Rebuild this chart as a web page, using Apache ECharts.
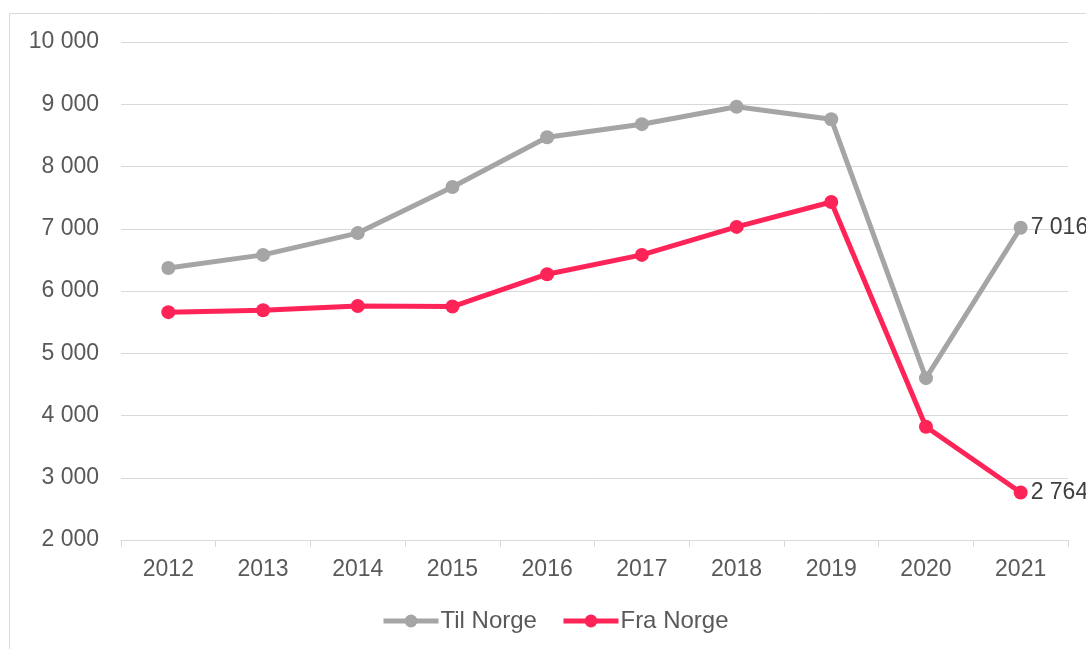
<!DOCTYPE html>
<html>
<head>
<meta charset="utf-8">
<script src="https://cdn.jsdelivr.net/npm/echarts@6/dist/echarts.min.js"></script>
<style>
  html, body { margin: 0; padding: 0; background: #fff; }
  #chart { width: 1086px; height: 649px; }
</style>
</head>
<body>
<div id="chart"></div>
<script>
const years = ["2012", "2013", "2014", "2015", "2016", "2017", "2018", "2019", "2020", "2021"];
const tilNorge = [6370, 6580, 6930, 7670, 8470, 8680, 8960, 8760, 4600, 7016];
const fraNorge = [5660, 5690, 5760, 5750, 6270, 6580, 7030, 7430, 3820, 2764];

const fmt = v => String(v).replace(/\B(?=(\d{3})+(?!\d))/g, " ");
const font = "Liberation Sans, Arial, sans-serif";

const chart = echarts.init(document.getElementById("chart"));

// label only the last point of each line
function lastLabel(data) {
  return data.map((v, i) => i === data.length - 1
    ? { value: v, label: { show: true, position: "right", distance: 3, formatter: p => fmt(p.value), color: "#404040", fontSize: 23, fontFamily: font } }
    : v);
}

chart.setOption({
  animation: false,
  textStyle: { fontFamily: font },
  graphic: [{
    type: "rect",
    shape: { x: 9.5, y: 13.5, width: 1200, height: 700 },
    style: { fill: "none", stroke: "#d9d9d9", lineWidth: 1 },
    silent: true
  }],
  grid: { left: 121, right: 18, top: 42, bottom: 109, containLabel: false },
  legend: {
    bottom: 11,
    left: 376,
    itemWidth: 55,
    itemHeight: 16,
    itemGap: 24,
    lineStyle: { width: 5 },
    textStyle: { color: "#595959", fontSize: 24, fontFamily: font, padding: [0, 0, 0, -3] },
    data: ["Til Norge", "Fra Norge"]
  },
  xAxis: {
    type: "category",
    data: years,
    boundaryGap: true,
    axisLine: { lineStyle: { color: "#d9d9d9", width: 1 } },
    axisTick: { show: true, length: 7, lineStyle: { color: "#d9d9d9" } },
    axisLabel: { color: "#595959", fontSize: 23, margin: 18, fontFamily: font }
  },
  yAxis: {
    type: "value",
    min: 2000,
    max: 10000,
    interval: 1000,
    axisLine: { show: false },
    axisTick: { show: false },
    splitLine: { lineStyle: { color: "#d9d9d9", width: 1 } },
    axisLabel: { color: "#595959", fontSize: 23, margin: 22, fontFamily: font, formatter: v => fmt(v) }
  },
  series: [
    {
      name: "Til Norge",
      type: "line",
      data: lastLabel(tilNorge),
      color: "#a5a5a5",
      lineStyle: { width: 5, color: "#a5a5a5" },
      symbol: "circle",
      symbolSize: 14,
      itemStyle: { color: "#a5a5a5" }
    },
    {
      name: "Fra Norge",
      type: "line",
      data: lastLabel(fraNorge),
      color: "#ff2458",
      lineStyle: { width: 5, color: "#ff2458" },
      symbol: "circle",
      symbolSize: 14,
      itemStyle: { color: "#ff2458" }
    }
  ]
});
</script>
</body>
</html>
